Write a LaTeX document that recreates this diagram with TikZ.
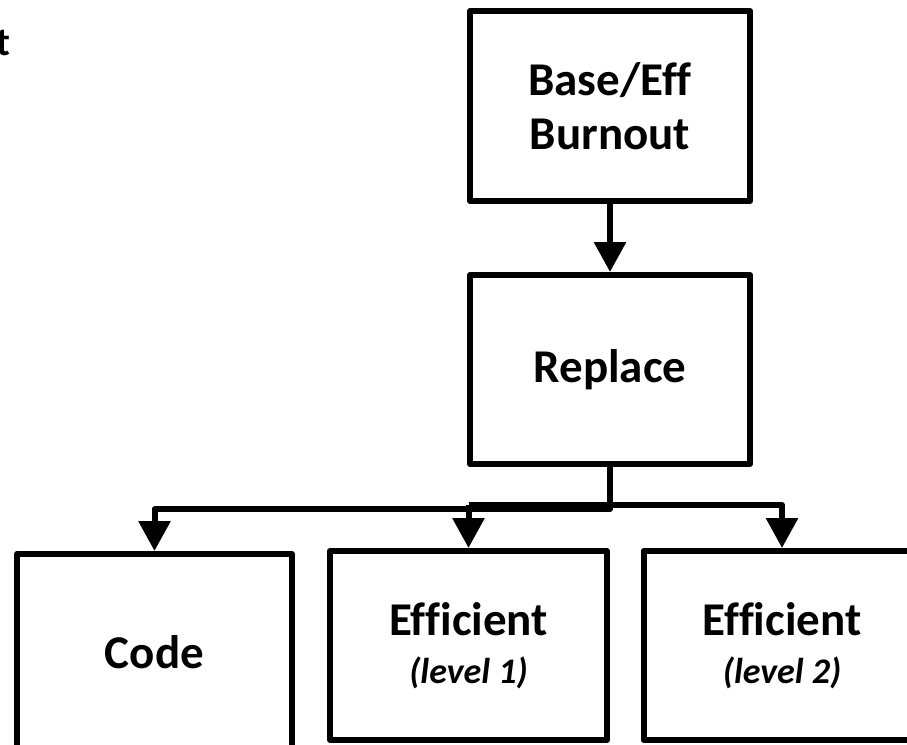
\documentclass[tikz,border=0pt]{standalone}
\usepackage{fontspec}
\setmainfont[Ligatures=NoCommon]{Carlito}
\usetikzlibrary{arrows.meta}

\tikzset{
  box/.style={draw, line width=6pt, rectangle, line join=round, inner sep=0pt, align=center,
              font=\bfseries\fontsize{47}{56}\selectfont},
  conn/.style={line width=6pt, line join=round},
  tip/.style={-{Triangle[length=30pt,width=31pt]}},
}
\newcommand{\levelfont}{\mdseries\itshape\bfseries\fontsize{36}{42}\selectfont}

\begin{document}
\begin{tikzpicture}[x=1pt,y=-1pt]
  \useasboundingbox (0,0) rectangle (907,744);
  \clip (0,0) rectangle (907,744);

  % cut-off title fragment at the top left
  \node[anchor=base east, inner sep=0pt, font=\bfseries\fontsize{40}{48}\selectfont] (title) at (11,55) {t};

  % boxes
  \node[box, minimum width=280pt, minimum height=190pt] (burn) at (610,106)
    {Base/Eff\\[-2pt]Burnout};
  \node[box, minimum width=280pt, minimum height=189pt] (rep) at (610,369.5)
    {Replace};
  \node[box, minimum width=275pt, minimum height=196pt] (code) at (154.5,652)
    {Code};
  \node[box, minimum width=277pt, minimum height=189pt] (eff1) at (468.5,645.5)
    {Efficient\\[-8pt]{\levelfont (level 1)}};
  \node[box, minimum width=277pt, minimum height=189pt] (eff2) at (782,645.5)
    {Efficient\\[-8pt]{\levelfont (level 2)}};

  % junction points of the branching connector
  \coordinate (jl) at (610,509);
  \coordinate (jr) at (468.5,505);

  % connectors
  \draw[conn, tip] (burn.south) -- (rep.north);
  \draw[conn, tip] (rep.south) -- (jl) -| (code.north);
  \draw[conn, tip] (jr) -- (eff1.north);
  \draw[conn, tip] (jr) -| (eff2.north);
\end{tikzpicture}
\end{document}
